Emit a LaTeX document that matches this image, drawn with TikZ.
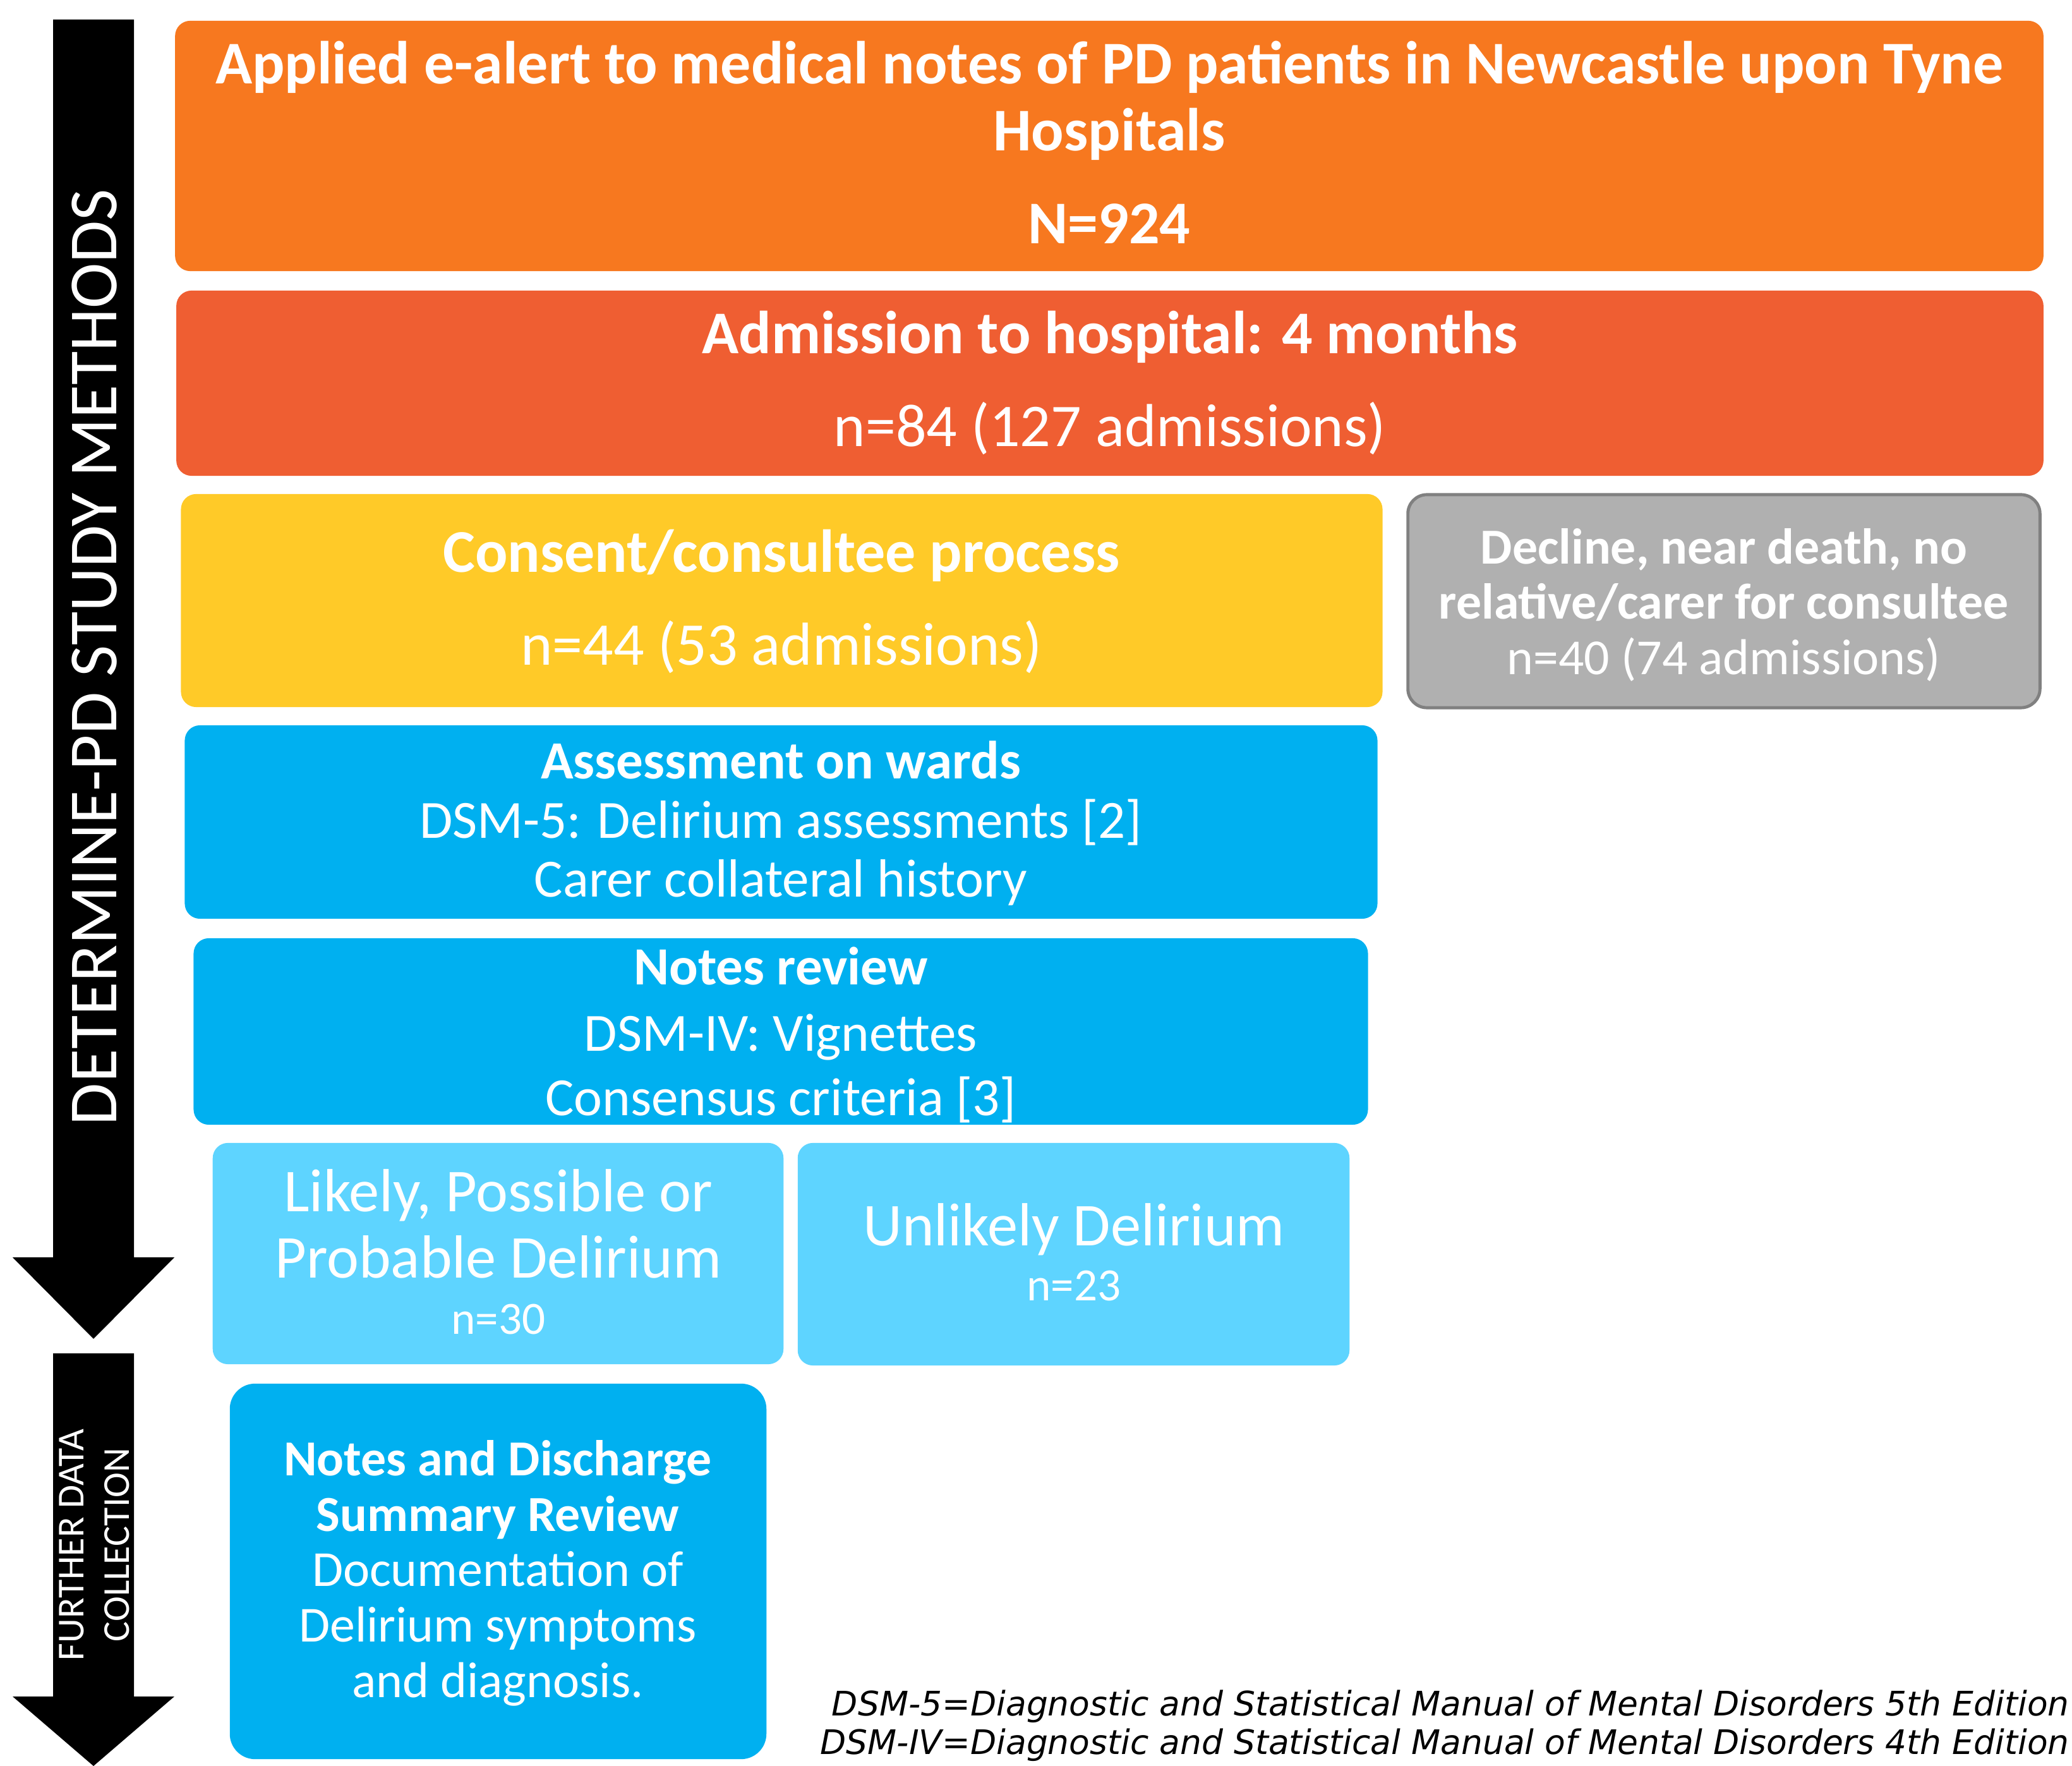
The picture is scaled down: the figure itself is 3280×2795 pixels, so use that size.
\documentclass[tikz,border=0pt]{standalone}
\usepackage{fontspec}
\setmainfont{Carlito}
\newfontfamily\notefont{DejaVu Sans}
\definecolor{cOrange}{RGB}{247,120,31}
\definecolor{cRed}{RGB}{239,94,50}
\definecolor{cYellow}{RGB}{255,202,40}
\definecolor{cGrey}{RGB}{176,176,176}
\definecolor{cGreyEdge}{RGB}{128,128,128}
\definecolor{cBlue}{RGB}{0,176,240}
\definecolor{cLight}{RGB}{94,212,255}
\newcommand{\fsz}[1]{\fontsize{#1}{1.2\dimexpr#1\relax}\selectfont}
\begin{document}
\begin{tikzpicture}[x=0.01cm,y=-0.01cm,
  panel/.style={rectangle, rounded corners=0.24cm, inner sep=0pt, outer sep=0pt, draw=none},
  txt/.style={text=white, inner sep=0pt, anchor=base},
  bigb/.style={txt, font=\fsz{27.3pt}\bfseries},
  bigr/.style={txt, font=\fsz{27.3pt}},
  midb/.style={txt, font=\fsz{24.2pt}\bfseries},
  midr/.style={txt, font=\fsz{24.2pt}},
  greyb/.style={txt, font=\fsz{22.7pt}\bfseries},
  greyr/.style={txt, font=\fsz{22.7pt}},
  outr/.style={txt, font=\fsz{27.4pt}},
  cntr/.style={txt, font=\fsz{20.8pt}},
  sumb/.style={txt, font=\fsz{22.7pt}\bfseries},
  sumr/.style={txt, font=\fsz{22.7pt}},
  note/.style={inner sep=0pt, anchor=base east, font=\notefont\itshape\fsz{15.2pt}}]
\useasboundingbox (0,0) rectangle (3280,2795);

% vertical stage arrows
\fill[black] (84,31) -- (212,31) -- (212,1990) -- (276,1990) -- (148,2119)
  -- (20,1990) -- (84,1990) -- cycle;
\fill[black] (84,2142) -- (212,2142) -- (212,2685) -- (276,2685) -- (148,2795)
  -- (20,2685) -- (84,2685) -- cycle;
\node[text=white, inner sep=0pt, rotate=90, font=\fsz{31pt}] (stage1) at (150,1040)
  {DETERMINE-PD STUDY METHODS};
\node[text=white, inner sep=0pt, rotate=90, align=center,
  font=\fontsize{17.1pt}{20.5pt}\selectfont] (stage2) at (149,2445)
  {FURTHER DATA\\COLLECTION};

% flow boxes
\node[panel, fill=cOrange, minimum width=29.56cm, minimum height=3.96cm] (alert) at (1756,231) {};
\node[panel, fill=cRed, minimum width=29.54cm, minimum height=2.93cm] (admit) at (1757,606.5) {};
\node[panel, fill=cYellow, minimum width=19.01cm, minimum height=3.37cm] (consent) at (1237.5,950.5) {};
\node[panel, fill=cGrey, draw=cGreyEdge, line width=1.4pt, rounded corners=0.3cm,
  minimum width=10.0cm, minimum height=3.37cm] (decline) at (2729,951.5) {};
\node[panel, fill=cBlue, minimum width=18.87cm, minimum height=3.06cm] (assess) at (1236.5,1301) {};
\node[panel, fill=cBlue, minimum width=18.58cm, minimum height=2.95cm] (review) at (1236,1632.5) {};
\node[panel, fill=cLight, minimum width=9.03cm, minimum height=3.50cm] (likely) at (788.5,1984) {};
\node[panel, fill=cLight, minimum width=8.73cm, minimum height=3.52cm] (unlikely) at (1699.5,1985) {};
\node[panel, fill=cBlue, rounded corners=0.4cm, minimum width=8.49cm, minimum height=5.94cm] (summary) at (788.5,2487) {};

% box texts
\node[bigb] (alert1) at (1756,133) {Applied e-alert to medical notes of PD patients in Newcastle upon Tyne};
\node[bigb] (alert2) at (1756,239) {Hospitals};
\node[bigb] (alert3) at (1756,386) {N=924};

\node[bigb] (admit1) at (1757,560) {Admission to hospital: 4 months};
\node[bigr] (admit2) at (1757,707) {n=84 (127 admissions)};

\node[bigb] (consent1) at (1237,906) {Consent/consultee process};
\node[bigr] (consent2) at (1237,1053) {n=44 (53 admissions)};

\node[greyb] (decline1) at (2729,893) {Decline, near death, no};
\node[greyb] (decline2) at (2729,980) {relative/carer for consultee};
\node[greyr] (decline3) at (2729,1068) {n=40 (74 admissions)};

\node[midb] (assess1) at (1236,1233) {Assessment on wards};
\node[midr] (assess2) at (1236,1327) {DSM-5: Delirium assessments [2]};
\node[midr] (assess3) at (1236,1420) {Carer collateral history};

\node[midb] (review1) at (1236,1559) {Notes review};
\node[midr] (review2) at (1236,1664) {DSM-IV: Vignettes};
\node[midr] (review3) at (1236,1766) {Consensus criteria [3]};

\node[outr] (likely1) at (789,1918) {Likely, Possible or};
\node[outr] (likely2) at (789,2023) {Probable Delirium};
\node[cntr] (likely3) at (789,2112) {n=30};

\node[outr] (unlikely1) at (1700,1972) {Unlikely Delirium};
\node[cntr] (unlikely2) at (1700,2059) {n=23};

\node[sumb] (summary1) at (788,2335) {Notes and Discharge};
\node[sumb] (summary2) at (788,2423) {Summary Review};
\node[sumr] (summary3) at (788,2510) {Documentation of};
\node[sumr] (summary4) at (788,2598) {Delirium symptoms};
\node[sumr] (summary5) at (788,2686) {and diagnosis.};

% abbreviations
\node[note] (abbr1) at (3276,2715) {DSM-5=Diagnostic and Statistical Manual of Mental Disorders 5th Edition};
\node[note] (abbr2) at (3276,2776) {DSM-IV=Diagnostic and Statistical Manual of Mental Disorders 4th Edition};
\end{tikzpicture}
\end{document}
